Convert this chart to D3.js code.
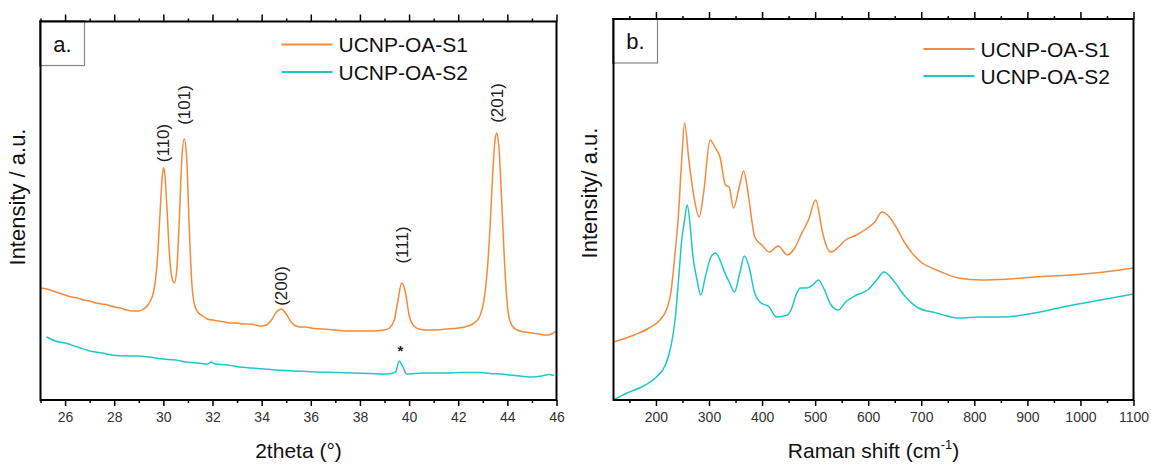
<!DOCTYPE html>
<html><head><meta charset="utf-8">
<script src="https://cdn.jsdelivr.net/npm/d3@7"></script>
<style>
body{margin:0;background:#fff;}
svg{display:block;font-family:"Liberation Sans",Arial,sans-serif;}
</style></head>
<body><svg id="c" width="1151" height="465"></svg>
<script>
// ---------- DATA ----------
const seriesNames = ["UCNP-OA-S1", "UCNP-OA-S2"];
const xrdTicks = [26, 28, 30, 32, 34, 36, 38, 40, 42, 44, 46];
const ramanTicks = [200, 300, 400, 500, 600, 700, 800, 900, 1000, 1100];

// XRD, panel a (2theta, intensity a.u.)
const xrdS1 = [
[25.0,112],[25.25,111],[25.5,109],[25.75,107],[26.0,105],[26.25,103],[26.5,102],[26.75,100],
[27.0,99],[27.25,97],[27.5,96],[27.75,95],[28.0,93],[28.25,92],[28.5,90],[28.75,89],[29.0,89],
[29.2,91],[29.4,96],[29.6,108],[29.75,138],[29.85,180],[29.95,222],[30.0,232],[30.05,228],
[30.15,190],[30.25,145],[30.35,122],[30.45,117],[30.55,132],[30.65,180],[30.75,240],[30.85,261],
[30.95,242],[31.05,175],[31.15,120],[31.25,97],[31.4,88],[31.6,84],[31.8,81],[32.0,80],
[32.25,79],[32.5,78],[32.75,77],[33.0,77],[33.25,76],[33.5,76],[33.75,75],[34.0,74],[34.2,75],
[34.4,80],[34.6,88],[34.8,91],[35.0,86],[35.2,78],[35.4,74],[35.6,73],[35.8,73],[36.0,72],
[36.5,71],[37.0,70],[37.5,69],[38.0,69],[38.5,69],[39.0,70],[39.2,72],[39.4,80],[39.55,100],
[39.7,117],[39.85,108],[40.0,85],[40.2,74],[40.4,71],[40.7,70],[41.0,70],[41.5,71],[42.0,72],
[42.4,74],[42.7,78],[42.9,85],[43.05,100],[43.2,135],[43.3,175],[43.4,225],[43.5,260],[43.56,267],
[43.65,255],[43.75,210],[43.85,155],[43.95,110],[44.05,85],[44.2,74],[44.4,70],[44.7,68],
[45.0,67],[45.3,66],[45.6,65],[45.8,66],[46.0,69]
];
const xrdS2 = [
[25.25,63],[25.6,59],[26.0,57],[26.5,53],[27.0,49],[27.5,47],[27.9,45],[28.5,44],[29.0,44],
[29.4,43],[30.0,41],[30.5,40],[30.9,38],[31.4,37],[31.8,36],[31.95,38],[32.1,36],[32.6,35],
[33.1,33],[33.6,32],[34.1,31],[34.6,30],[35.4,29],[36.2,28],[37.0,27.5],[37.7,27],[38.4,26.5],
[39.15,26],[39.45,28],[39.6,39],[39.75,33],[39.9,26],[40.6,27],[41.4,27],[42.2,27.5],[42.9,27.5],
[43.3,26.5],[43.7,26],[44.3,24.5],[45.0,23],[45.4,24],[45.7,25.5],[45.9,24.5]
];
const xrdPeaks = [
{label:"(110)", t:30.0, y:257},
{label:"(101)", t:30.85, y:295},
{label:"(200)", t:34.8, y:114},
{label:"(111)", t:39.72, y:155},
{label:"(201)", t:43.56, y:297}
];
const xrdStar = {t:39.65, y:48};

// Raman, panel b (shift cm-1, intensity a.u.)
const ramanS1 = [
[120,58],[159,65],[187,72],[207.5,80],[221,92],[228,107],[236,147],[241.7,180],[248,235],
[254,277],[262,240],[272.6,200],[281.5,183],[289.8,207],[302,260],[312,252],[320.7,243],
[331,215],[338,213],[346,192],[357,213],[365.4,229],[373.5,207],[382.5,173],[386,163],
[399.5,155],[413.4,148],[430.6,154],[447.7,145],[461.5,152],[475,167],[487.5,180],[501,200],
[513,170],[516,163],[530,148],[543.8,153],[557.5,160],[578,165],[598.7,172],[612.5,178],
[626,188],[640,183],[653.6,172],[668,158],[681,148],[701.6,137],[729,130],[770,122],
[811.5,120],[866,121],[914,123],[983,125],[1045,128],[1100,132]
];
const ramanS2 = [
[120,0],[145.6,7],[173,13],[200.6,23],[217.8,35],[228,53],[236,80],[243,123],[248.6,160],
[254,180],[258.9,195],[265.7,167],[269,147],[277.5,120],[284.4,105],[293,123],[303.5,143],
[312,147],[320.8,140],[327.6,130],[338,118],[348,108],[358,127],[366.7,144],[375.5,133],
[386,107],[396,98],[413.4,93],[427,83],[447.7,85],[456,92],[464,105],[472,112],[484,112],[495.7,115],
[506,120],[516,112],[530,95],[543.8,90],[557.5,98],[578,105],[598.7,110],[616,120],[629.6,128],
[646.8,120],[667.3,105],[694.8,92],[729,87],[770,82],[811.5,83],[852.6,83],[914,87],[976,94],
[1038,100],[1100,106]
];

const colors = ["#f58a3c", "#1fc8c8"];

// ---------- DRAW ----------
const svg = d3.select("#c");

function panel(opt){
  const g = svg.append("g");
  const x = d3.scaleLinear().domain(opt.xDomain).range([opt.left, opt.right]);
  const y = d3.scaleLinear().domain(opt.yDomain).range([opt.bottom, opt.top]);
  const line = d3.line().x(d=>x(d[0])).y(d=>y(d[1])).curve(d3.curveMonotoneX);

  const cid = "clip"+opt.id;
  svg.append("clipPath").attr("id",cid).append("rect")
    .attr("x",opt.left).attr("y",opt.top).attr("width",opt.right-opt.left).attr("height",opt.bottom-opt.top);

  opt.series.forEach((s,i)=>{
    g.append("path").datum(s).attr("d",line).attr("fill","none")
      .attr("stroke",colors[i]).attr("stroke-width",1.5).attr("stroke-linejoin","round")
      .attr("clip-path","url(#"+cid+")");
  });

  const minor = opt.minorTicks;
  const bottomMajor = d3.axisBottom(x).tickValues(opt.ticks).tickSize(6).tickPadding(6).tickFormat(d3.format("d"));
  const bottomMinor = d3.axisBottom(x).tickValues(minor).tickSize(3).tickFormat("");
  const topMajor = d3.axisTop(x).tickValues(opt.ticks).tickSize(7).tickFormat("");
  const topMinor = d3.axisTop(x).tickValues(minor).tickSize(3).tickFormat("");
  [[bottomMajor,opt.bottom],[bottomMinor,opt.bottom],[topMajor,opt.top],[topMinor,opt.top]].forEach(([ax,yy])=>{
    const a = g.append("g").attr("transform","translate(0,"+yy+")").call(ax);
    a.select(".domain").remove();
    a.selectAll("line").attr("stroke","#000").attr("stroke-width",1.5);
    a.selectAll("text").attr("font-size",14).attr("fill","#333")
      .attr("font-family","'Liberation Sans',Arial,sans-serif");
  });

  g.append("rect").attr("x",opt.left).attr("y",opt.top)
    .attr("width",opt.right-opt.left).attr("height",opt.bottom-opt.top)
    .attr("fill","none").attr("stroke","#000").attr("stroke-width",2);

  g.append("rect").attr("x",opt.left).attr("y",opt.top).attr("width",44).attr("height",44)
    .attr("fill","#fff").attr("stroke","#888").attr("stroke-width",1.2);
  g.append("rect").attr("x",opt.left-1).attr("y",opt.top-1).attr("width",2).attr("height",46).attr("fill","#000");
  g.append("rect").attr("x",opt.left-1).attr("y",opt.top-1).attr("width",46).attr("height",2).attr("fill","#000");
  g.append("text").attr("x",opt.left+22).attr("y",opt.top+30).attr("text-anchor","middle")
    .attr("font-size",22).attr("fill","#111").text(opt.tag);

  seriesNames.forEach((n,i)=>{
    const ly = opt.legY + i*opt.legGap;
    g.append("line").attr("x1",opt.legX).attr("x2",opt.legX+51).attr("y1",ly).attr("y2",ly)
      .attr("stroke",colors[i]).attr("stroke-width",2);
    g.append("text").attr("x",opt.legX+57).attr("y",ly+7.5).attr("font-size",21)
      .attr("fill","#111").text(n);
  });

  const xt = g.append("text").attr("x",(opt.left+opt.right)/2).attr("y",458)
    .attr("text-anchor","middle").attr("font-size",21).attr("fill","#111");
  opt.xTitle(xt);
  g.append("text").attr("transform","translate("+opt.yTitleX+","+opt.yTitleY+") rotate(-90)")
    .attr("text-anchor","middle").attr("font-size",22).attr("fill","#111").text(opt.yTitle);

  return {g,x,y};
}

const xrdMinor = d3.range(25,46.01,1).filter(v=>v%2===1);
const pA = panel({
  id:"a", left:40.5, right:556.5, top:21.5, bottom:400,
  xDomain:[25,46], yDomain:[0,378.5], ticks:xrdTicks, minorTicks:xrdMinor,
  series:[xrdS1,xrdS2], tag:"a.", legX:281.5, legY:44.5, legGap:27.5,
  xTitle:t=>t.text("2theta (\u00b0)"), yTitle:"Intensity / a.u.", yTitleX:25, yTitleY:197
});
xrdPeaks.forEach(p=>{
  pA.g.append("text").attr("transform","translate("+(pA.x(p.t)+6)+","+pA.y(p.y)+") rotate(-90)")
    .attr("text-anchor","middle").attr("font-size",17).attr("fill","#222").text(p.label);
});
pA.g.append("text").attr("x",pA.x(xrdStar.t)).attr("y",pA.y(xrdStar.y)+4).attr("text-anchor","middle")
  .attr("font-size",15).attr("font-weight","bold").attr("fill","#222").text("*");

const ramanMinor = d3.range(150,1100,100);
const pB = panel({
  id:"b", left:613.5, right:1133.5, top:19, bottom:400,
  xDomain:[120,1100], yDomain:[0,381], ticks:ramanTicks, minorTicks:ramanMinor,
  series:[ramanS1,ramanS2], tag:"b.", legX:923.5, legY:49, legGap:27,
  xTitle:t=>{ t.append("tspan").text("Raman shift (cm");
              t.append("tspan").attr("font-size",13).attr("dy",-9).text("-1");
              t.append("tspan").attr("dy",9).text(")"); },
  yTitle:"Intensity/ a.u.", yTitleX:597, yTitleY:193
});
</script></body></html>
